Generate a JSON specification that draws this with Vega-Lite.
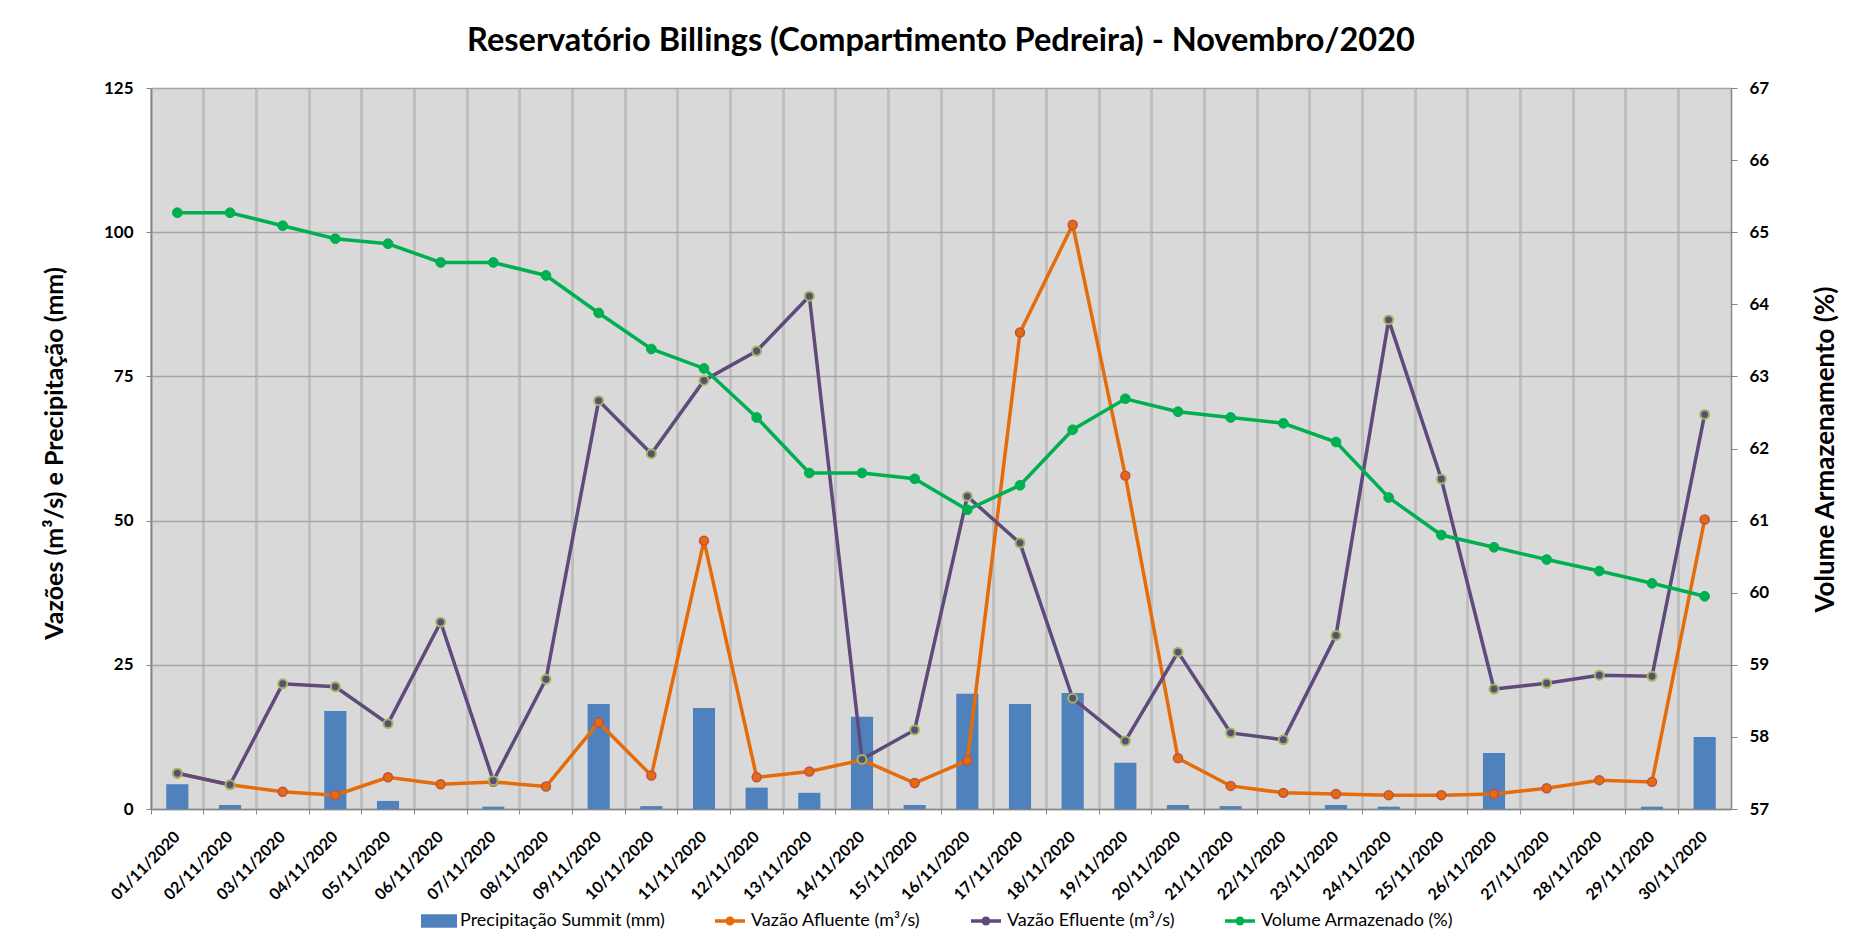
{
  "$schema": "https://vega.github.io/schema/vega-lite/v6.json",
  "width": 1580,
  "height": 721,
  "autosize": "none",
  "padding": {"left": 151, "top": 88, "right": 128, "bottom": 140},
  "background": "white",
  "config": {
    "font": "Lato",
    "view": {"fill": "#d9d9d9", "stroke": null}
  },
  "title": {
    "text": "Reservatório Billings (Compartimento Pedreira) - Novembro/2020",
    "font": "Lato",
    "fontSize": 32.5,
    "fontWeight": "bold",
    "color": "black",
    "anchor": "middle",
    "frame": "group",
    "baseline": "alphabetic",
    "offset": -4
  },
  "data": {
    "values": [
      {"date": "01/11/2020", "precip": 4.3, "afluente": 6.2, "efluente": 6.2, "volume": 65.27},
      {"date": "02/11/2020", "precip": 0.7, "afluente": 4.2, "efluente": 4.2, "volume": 65.27},
      {"date": "03/11/2020", "precip": 0, "afluente": 3.0, "efluente": 21.7, "volume": 65.09},
      {"date": "04/11/2020", "precip": 17.0, "afluente": 2.4, "efluente": 21.2, "volume": 64.91},
      {"date": "05/11/2020", "precip": 1.4, "afluente": 5.5, "efluente": 14.8, "volume": 64.84},
      {"date": "06/11/2020", "precip": 0, "afluente": 4.3, "efluente": 32.4, "volume": 64.58},
      {"date": "07/11/2020", "precip": 0.4, "afluente": 4.7, "efluente": 4.9, "volume": 64.58},
      {"date": "08/11/2020", "precip": 0, "afluente": 3.9, "efluente": 22.5, "volume": 64.40},
      {"date": "09/11/2020", "precip": 18.2, "afluente": 15.0, "efluente": 70.8, "volume": 63.88},
      {"date": "10/11/2020", "precip": 0.5, "afluente": 5.8, "efluente": 61.6, "volume": 63.38},
      {"date": "11/11/2020", "precip": 17.5, "afluente": 46.5, "efluente": 74.3, "volume": 63.11},
      {"date": "12/11/2020", "precip": 3.7, "afluente": 5.5, "efluente": 79.4, "volume": 62.43},
      {"date": "13/11/2020", "precip": 2.8, "afluente": 6.5, "efluente": 88.9, "volume": 61.66},
      {"date": "14/11/2020", "precip": 16.0, "afluente": 8.5, "efluente": 8.6, "volume": 61.66},
      {"date": "15/11/2020", "precip": 0.7, "afluente": 4.5, "efluente": 13.7, "volume": 61.58},
      {"date": "16/11/2020", "precip": 20.0, "afluente": 8.4, "efluente": 54.2, "volume": 61.15},
      {"date": "17/11/2020", "precip": 18.2, "afluente": 82.6, "efluente": 46.1, "volume": 61.49},
      {"date": "18/11/2020", "precip": 20.1, "afluente": 101.3, "efluente": 19.2, "volume": 62.26},
      {"date": "19/11/2020", "precip": 8.0, "afluente": 57.8, "efluente": 11.8, "volume": 62.69},
      {"date": "20/11/2020", "precip": 0.7, "afluente": 8.8, "efluente": 27.2, "volume": 62.51},
      {"date": "21/11/2020", "precip": 0.5, "afluente": 4.0, "efluente": 13.2, "volume": 62.43},
      {"date": "22/11/2020", "precip": 0, "afluente": 2.8, "efluente": 12.0, "volume": 62.35},
      {"date": "23/11/2020", "precip": 0.7, "afluente": 2.6, "efluente": 30.1, "volume": 62.09},
      {"date": "24/11/2020", "precip": 0.4, "afluente": 2.4, "efluente": 84.8, "volume": 61.32},
      {"date": "25/11/2020", "precip": 0, "afluente": 2.4, "efluente": 57.2, "volume": 60.80},
      {"date": "26/11/2020", "precip": 9.7, "afluente": 2.6, "efluente": 20.8, "volume": 60.63},
      {"date": "27/11/2020", "precip": 0, "afluente": 3.6, "efluente": 21.8, "volume": 60.46},
      {"date": "28/11/2020", "precip": 0, "afluente": 5.0, "efluente": 23.2, "volume": 60.30},
      {"date": "29/11/2020", "precip": 0.4, "afluente": 4.7, "efluente": 23.0, "volume": 60.13},
      {"date": "30/11/2020", "precip": 12.5, "afluente": 50.2, "efluente": 68.4, "volume": 59.95}
    ]
  },
  "encoding": {
    "x": {
      "field": "date",
      "type": "ordinal",
      "sort": null,
      "scale": {"paddingInner": 0, "paddingOuter": 0},
      "axis": {
        "title": null,
        "bandPosition": 0,
        "labelAngle": -45,
        "labelAlign": "right",
        "labelBaseline": "middle",
        "labelPadding": 20,
        "labelOverlap": false,
        "labelFont": "Lato",
        "labelFontSize": 16,
        "labelFontWeight": "bold",
        "labelColor": "black",
        "grid": true,
        "gridColor": "#bfbfbf",
        "gridWidth": 3,
        "tickColor": "#868686",
        "tickSize": 5,
        "domainColor": "#868686",
        "domainWidth": 1.5
      }
    }
  },
  "layer": [
    {
      "layer": [
        {
          "mark": {"type": "bar", "width": {"band": 0.42}},
          "encoding": {
            "y": {
              "field": "precip", "type": "quantitative",
              "scale": {"domain": [0, 125], "nice": false},
              "axis": {
                "values": [0, 25, 50, 75, 100, 125],
                "title": "Vazões (m³/s) e Precipitação (mm)",
                "titleFont": "Lato", "titleFontSize": 25, "titleFontWeight": "bold", "titleColor": "black",
                "titleAngle": -90, "titleX": -97, "titleY": 365, "titleAlign": "center", "titleBaseline": "middle",
                "labelFont": "Lato", "labelFontSize": 17, "labelFontWeight": "bold", "labelColor": "black",
                "labelPadding": 13, "tickSize": 5, "tickColor": "#868686", "domainColor": "#868686", "domainWidth": 1.5,
                "grid": true, "gridColor": "#a6a6a6", "gridWidth": 1.5
              }
            },
            "color": {
              "datum": "Precipitação Summit (mm)",
              "scale": {
                "domain": ["Precipitação Summit (mm)", "Vazão Afluente (m³/s)", "Vazão Efluente (m³/s)", "Volume Armazenado (%)"],
                "range": ["#4f81bd", "#e46c0a", "#604a7b", "#00b050"]
              },
              "legend": {
                "title": null,
                "orient": "none",
                "legendX": 273,
                "legendY": 818,
                "direction": "horizontal",
                "labelFont": "Lato",
                "labelFontSize": 18,
                "labelColor": "black",
                "labelLimit": 0,
                "symbolSize": 900,
                "labelOffset": 6,
                "columnPadding": 50,
                "encode": {
                  "symbols": {
                    "update": {
                      "shape": {"signal": "datum.value === 'Precipitação Summit (mm)' ? 'M-1.2,-0.45L1.2,-0.45L1.2,0.45L-1.2,0.45Z' : 'M-1,-0.11L1,-0.11L1,0.11L-1,0.11Z M-0.3,0 A0.3,0.3 0 1,1 0.3,0 A0.3,0.3 0 1,1 -0.3,0 Z'"},
                      "fill": {"signal": "scale('color', datum.value)"},
                      "strokeWidth": {"value": 0},
                      "opacity": {"value": 1}
                    }
                  }
                }
              }
            }
          }
        },
        {
          "mark": {"type": "line", "strokeWidth": 3.5},
          "encoding": {
            "y": {
              "field": "afluente", "type": "quantitative",
              "scale": {"domain": [0, 125], "nice": false},
              "axis": {
                "values": [0, 25, 50, 75, 100, 125],
                "title": "Vazões (m³/s) e Precipitação (mm)",
                "titleFont": "Lato", "titleFontSize": 25, "titleFontWeight": "bold", "titleColor": "black",
                "titleAngle": -90, "titleX": -97, "titleY": 365, "titleAlign": "center", "titleBaseline": "middle",
                "labelFont": "Lato", "labelFontSize": 17, "labelFontWeight": "bold", "labelColor": "black",
                "labelPadding": 13, "tickSize": 5, "tickColor": "#868686", "domainColor": "#868686", "domainWidth": 1.5,
                "grid": true, "gridColor": "#a6a6a6", "gridWidth": 1.5
              }
            },
            "color": {"datum": "Vazão Afluente (m³/s)"}
          }
        },
        {
          "mark": {"type": "circle", "size": 80, "fill": "#e46c0a", "stroke": "#c0504d", "strokeWidth": 1.5, "opacity": 1},
          "encoding": {
            "y": {
              "field": "afluente", "type": "quantitative",
              "scale": {"domain": [0, 125], "nice": false},
              "axis": {
                "values": [0, 25, 50, 75, 100, 125],
                "title": "Vazões (m³/s) e Precipitação (mm)",
                "titleFont": "Lato", "titleFontSize": 25, "titleFontWeight": "bold", "titleColor": "black",
                "titleAngle": -90, "titleX": -97, "titleY": 365, "titleAlign": "center", "titleBaseline": "middle",
                "labelFont": "Lato", "labelFontSize": 17, "labelFontWeight": "bold", "labelColor": "black",
                "labelPadding": 13, "tickSize": 5, "tickColor": "#868686", "domainColor": "#868686", "domainWidth": 1.5,
                "grid": true, "gridColor": "#a6a6a6", "gridWidth": 1.5
              }
            }
          }
        },
        {
          "mark": {"type": "line", "strokeWidth": 3.5},
          "encoding": {
            "y": {
              "field": "efluente", "type": "quantitative",
              "scale": {"domain": [0, 125], "nice": false},
              "axis": {
                "values": [0, 25, 50, 75, 100, 125],
                "title": "Vazões (m³/s) e Precipitação (mm)",
                "titleFont": "Lato", "titleFontSize": 25, "titleFontWeight": "bold", "titleColor": "black",
                "titleAngle": -90, "titleX": -97, "titleY": 365, "titleAlign": "center", "titleBaseline": "middle",
                "labelFont": "Lato", "labelFontSize": 17, "labelFontWeight": "bold", "labelColor": "black",
                "labelPadding": 13, "tickSize": 5, "tickColor": "#868686", "domainColor": "#868686", "domainWidth": 1.5,
                "grid": true, "gridColor": "#a6a6a6", "gridWidth": 1.5
              }
            },
            "color": {"datum": "Vazão Efluente (m³/s)"}
          }
        },
        {
          "mark": {"type": "circle", "size": 80, "fill": "#604a7b", "stroke": "#9bbb59", "strokeWidth": 2, "opacity": 1},
          "encoding": {
            "y": {
              "field": "efluente", "type": "quantitative",
              "scale": {"domain": [0, 125], "nice": false},
              "axis": {
                "values": [0, 25, 50, 75, 100, 125],
                "title": "Vazões (m³/s) e Precipitação (mm)",
                "titleFont": "Lato", "titleFontSize": 25, "titleFontWeight": "bold", "titleColor": "black",
                "titleAngle": -90, "titleX": -97, "titleY": 365, "titleAlign": "center", "titleBaseline": "middle",
                "labelFont": "Lato", "labelFontSize": 17, "labelFontWeight": "bold", "labelColor": "black",
                "labelPadding": 13, "tickSize": 5, "tickColor": "#868686", "domainColor": "#868686", "domainWidth": 1.5,
                "grid": true, "gridColor": "#a6a6a6", "gridWidth": 1.5
              }
            }
          }
        }
      ]
    },
    {
      "layer": [
        {
          "mark": {"type": "line", "strokeWidth": 3.5},
          "encoding": {
            "y": {
              "field": "volume", "type": "quantitative",
              "scale": {"domain": [57, 67], "nice": false, "zero": false},
              "axis": {
                "orient": "right",
                "values": [57, 58, 59, 60, 61, 62, 63, 64, 65, 66, 67],
                "title": "Volume Armazenamento (%)",
                "titleFont": "Lato", "titleFontSize": 26, "titleFontWeight": "bold", "titleColor": "black",
                "titleAngle": -90, "titleX": 94.5, "titleY": 361, "titleAlign": "center", "titleBaseline": "middle",
                "labelFont": "Lato", "labelFontSize": 17, "labelFontWeight": "bold", "labelColor": "black",
                "labelPadding": 12, "tickSize": 6, "tickColor": "#868686", "domainColor": "#868686", "domainWidth": 1.5,
                "grid": false
              }
            },
            "color": {"datum": "Volume Armazenado (%)"}
          }
        },
        {
          "mark": {"type": "circle", "size": 95, "fill": "#00b050", "stroke": "#00b050", "strokeWidth": 1, "opacity": 1},
          "encoding": {
            "y": {
              "field": "volume", "type": "quantitative",
              "scale": {"domain": [57, 67], "nice": false, "zero": false},
              "axis": {
                "orient": "right",
                "values": [57, 58, 59, 60, 61, 62, 63, 64, 65, 66, 67],
                "title": "Volume Armazenamento (%)",
                "titleFont": "Lato", "titleFontSize": 26, "titleFontWeight": "bold", "titleColor": "black",
                "titleAngle": -90, "titleX": 94.5, "titleY": 361, "titleAlign": "center", "titleBaseline": "middle",
                "labelFont": "Lato", "labelFontSize": 17, "labelFontWeight": "bold", "labelColor": "black",
                "labelPadding": 12, "tickSize": 6, "tickColor": "#868686", "domainColor": "#868686", "domainWidth": 1.5,
                "grid": false
              }
            }
          }
        }
      ]
    }
  ],
  "resolve": {"scale": {"y": "independent"}}
}
